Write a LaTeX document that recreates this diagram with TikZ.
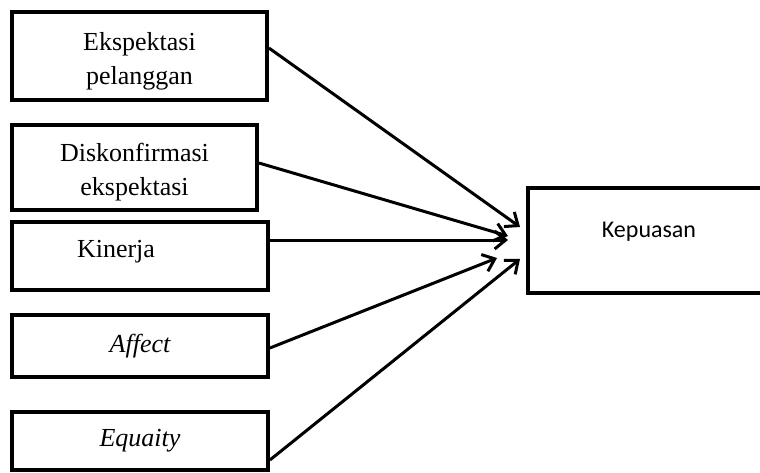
\documentclass[tikz,border=0pt]{standalone}
\usepackage{fontspec}
\setmainfont{Liberation Serif}
\newfontfamily\calib{Carlito}
\usetikzlibrary{arrows.meta}
\newcommand{\boxtext}[3]{\parbox[c][#1][c]{#2}{\centering\vspace*{10pt}#3}}
\begin{document}
\begin{tikzpicture}[x=1pt,y=-1pt,
  srcbox/.style={draw, line width=3.8pt, inner sep=0pt, font=\fontsize{26}{34}\selectfont, align=center},
  tgtbox/.style={draw, line width=3.5pt, inner sep=0pt, font=\calib\fontsize{24}{29}\selectfont},
  conn/.style={line width=3pt, -{Straight Barb[length=11pt,width=18pt,line width=3pt]}}]
\useasboundingbox (0,0) rectangle (760,473);
\clip (0,0) rectangle (760,473);
\node[srcbox, minimum width=255, minimum height=88] (b1) at (139.5,56) {\boxtext{88pt}{255pt}{Ekspektasi\\pelanggan}};
\node[srcbox, minimum width=245, minimum height=85] (b2) at (134.5,167.5) {\boxtext{85pt}{245pt}{Diskonfirmasi\\ekspektasi}};
\node[srcbox, minimum width=256, minimum height=68, text width=126pt, align=left, text depth=15pt] (b3) at (140,256) {Kinerja};
\node[srcbox, minimum width=256, minimum height=62] (b4) at (140,346) {\itshape Affect};
\node[srcbox, minimum width=256, minimum height=58] (b5) at (140,441) {\itshape Equaity};
\node[tgtbox, minimum width=242, minimum height=105, text depth=21pt] (k) at (649,240.5) {Kepuasan};
\coordinate (t1) at (520,227);
\coordinate (t2) at (508,236);
\coordinate (t3) at (508,240);
\coordinate (t4) at (497,258);
\coordinate (t5) at (520,259);
\draw[conn] ([yshift=8pt]b1.east) -- (t1);
\draw[conn] ([yshift=4.5pt]b2.east) -- (t2);
\draw[conn] ([yshift=16pt]b3.east) -- (t3);
\draw[conn] ([yshift=-2pt]b4.east) -- (t4);
\draw[conn] ([yshift=-19pt]b5.east) -- (t5);
\end{tikzpicture}
\end{document}
